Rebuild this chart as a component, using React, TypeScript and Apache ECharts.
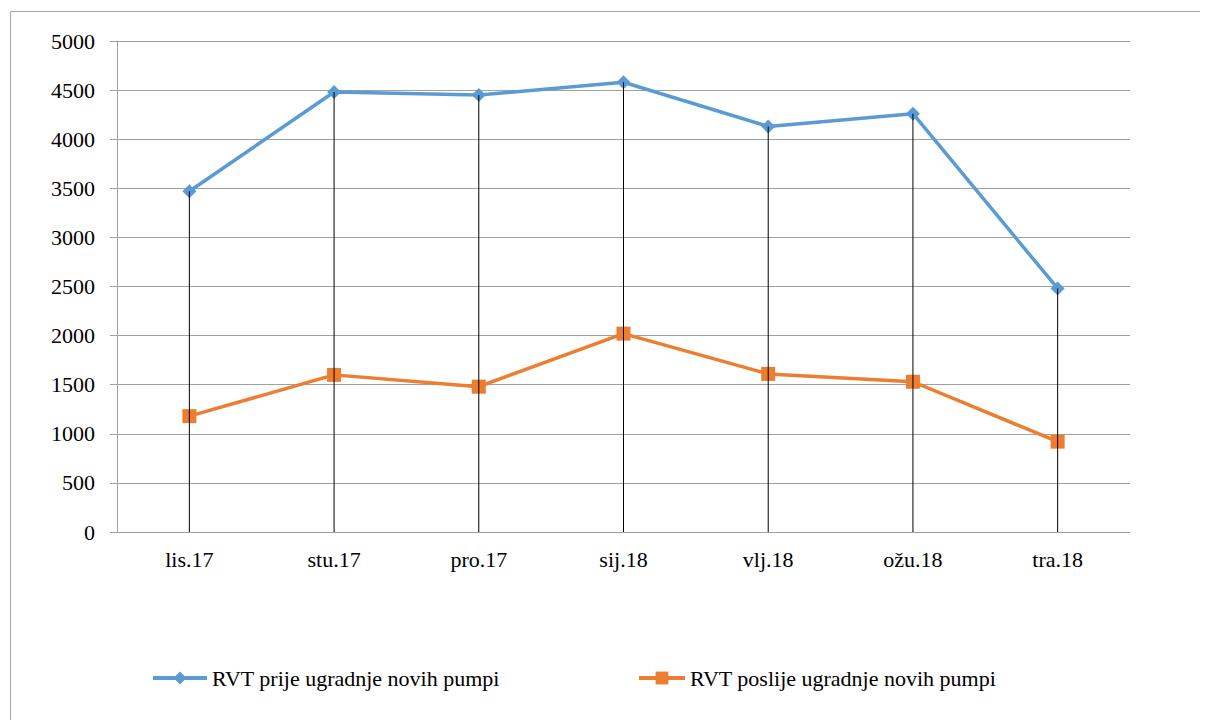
import React, { useEffect, useRef } from "react";
import * as echarts from "echarts";

const categories = ["lis.17", "stu.17", "pro.17", "sij.18", "vlj.18", "ožu.18", "tra.18"];
const before = [3470, 4480, 4450, 4580, 4130, 4260, 2480];
const after = [1180, 1600, 1480, 2020, 1610, 1530, 920];
const seriesNames = ["RVT prije ugradnje novih pumpi", "RVT poslije ugradnje novih pumpi"];

const FONT = "Liberation Serif";

export default function App() {
  const ref = useRef<HTMLDivElement>(null);
  useEffect(() => {
    const chart = echarts.init(ref.current!, null, { renderer: "svg" });
    chart.setOption({
      animation: false,
      backgroundColor: "#fff",
      graphic: [
        {
          type: "rect",
          shape: { x: 10.5, y: 11.5, width: 1220, height: 740 },
          style: { fill: "none", stroke: "#a6a6a6", lineWidth: 1 },
          silent: true,
        },
      ],
      legend: [
        {
          data: [seriesNames[0]],
          left: 146,
          top: 662,
          itemWidth: 54,
          itemHeight: 16,
          itemGap: 4,
          lineStyle: { width: 4 },
          textStyle: { fontFamily: FONT, fontSize: 22, color: "#000" },
        },
        {
          data: [seriesNames[1]],
          left: 632,
          top: 662,
          itemWidth: 46,
          itemHeight: 16,
          lineStyle: { width: 4 },
          textStyle: { fontFamily: FONT, fontSize: 22, color: "#000" },
        },
      ],
      grid: { left: 117, right: 78, top: 41, bottom: 196 },
      xAxis: {
        type: "category",
        data: categories,
        boundaryGap: true,
        axisLine: { lineStyle: { color: "#a0a0a0", width: 1 } },
        axisTick: { show: false },
        axisLabel: { color: "#000", fontFamily: FONT, fontSize: 22, margin: 16 },
      },
      yAxis: {
        type: "value",
        min: 0,
        max: 5000,
        interval: 500,
        axisLine: { show: true, lineStyle: { color: "#a0a0a0", width: 1 } },
        axisTick: { show: true, length: 7, lineStyle: { color: "#a0a0a0" } },
        axisLabel: {
          color: "#000",
          fontFamily: FONT,
          fontSize: 22,
          margin: 22,
          formatter: (v: number) => String(v),
        },
        splitLine: { lineStyle: { color: "#a0a0a0", width: 1 } },
      },
      series: [
        {
          name: seriesNames[0],
          type: "line",
          data: before,
          symbol: "diamond",
          symbolSize: 14,
          lineStyle: { color: "#5b9bd5", width: 3.5 },
          itemStyle: { color: "#5b9bd5" },
          z: 3,
        },
        {
          name: seriesNames[1],
          type: "line",
          data: after,
          symbol: "rect",
          symbolSize: 14,
          lineStyle: { color: "#ed7d31", width: 3.5 },
          itemStyle: { color: "#ed7d31" },
          z: 3,
        },
        {
          name: "drop",
          type: "bar",
          data: before,
          barWidth: 1,
          itemStyle: { color: "#000" },
          z: 5,
          silent: true,
        },
      ],
    });
    return () => chart.dispose();
  }, []);
  return <div ref={ref} style={{ width: 1208, height: 728, margin: -8 }} />;
}
